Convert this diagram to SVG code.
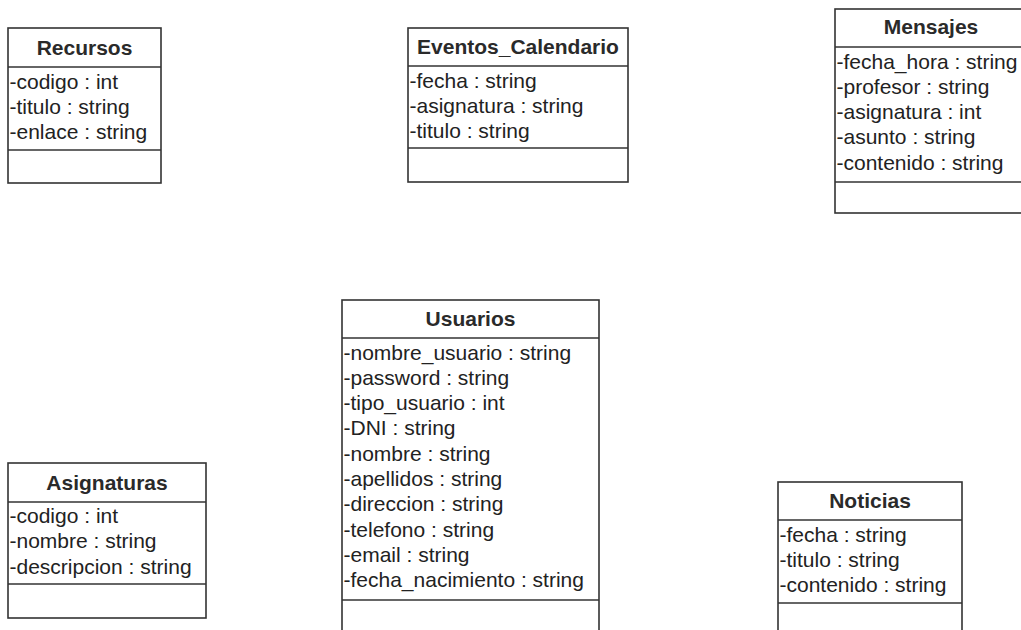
<svg xmlns="http://www.w3.org/2000/svg" width="1021" height="630" viewBox="0 0 1021 630">
  <style>
    .box { fill: #ffffff; stroke: #333333; stroke-width: 1.6; }
    .sep { stroke: #333333; stroke-width: 1.6; }
    .title { font-family: "Liberation Sans", Arial, sans-serif; font-size: 21px; font-weight: bold; fill: #2a2a2a; text-anchor: middle; }
    .attr { font-family: "Liberation Sans", Arial, sans-serif; font-size: 21px; fill: #222222; }
  </style>
  <rect width="1021" height="630" fill="#ffffff"/>

  <!-- class boxes -->
  <g id="recursos">
    <rect class="box" x="8" y="28" width="153" height="155"/>
    <line class="sep" x1="8" y1="67" x2="161" y2="67"/>
    <line class="sep" x1="8" y1="150" x2="161" y2="150"/>
    <text class="title" x="84.5" y="54.5">Recursos</text>
    <text class="attr" x="9.5" y="88.5">-codigo : int</text>
    <text class="attr" x="9.5" y="113.8">-titulo : string</text>
    <text class="attr" x="9.5" y="139.1">-enlace : string</text>
  </g>

  <g id="eventos_calendario">
    <rect class="box" x="408" y="28" width="220" height="154"/>
    <line class="sep" x1="408" y1="66" x2="628" y2="66"/>
    <line class="sep" x1="408" y1="148" x2="628" y2="148"/>
    <text class="title" x="518" y="54">Eventos_Calendario</text>
    <text class="attr" x="409.5" y="87.5">-fecha : string</text>
    <text class="attr" x="409.5" y="112.8">-asignatura : string</text>
    <text class="attr" x="409.5" y="138.1">-titulo : string</text>
  </g>

  <g id="mensajes">
    <rect class="box" x="835" y="9" width="192" height="204"/>
    <line class="sep" x1="835" y1="47" x2="1027" y2="47"/>
    <line class="sep" x1="835" y1="182" x2="1027" y2="182"/>
    <text class="title" x="931" y="34">Mensajes</text>
    <text class="attr" x="836.5" y="68.5">-fecha_hora : string</text>
    <text class="attr" x="836.5" y="93.8">-profesor : string</text>
    <text class="attr" x="836.5" y="119.1">-asignatura : int</text>
    <text class="attr" x="836.5" y="144.4">-asunto : string</text>
    <text class="attr" x="836.5" y="169.7">-contenido : string</text>
  </g>

  <g id="usuarios">
    <rect class="box" x="342" y="300" width="257" height="340"/>
    <line class="sep" x1="342" y1="338" x2="599" y2="338"/>
    <line class="sep" x1="342" y1="600" x2="599" y2="600"/>
    <text class="title" x="470.5" y="326">Usuarios</text>
    <text class="attr" x="343.5" y="359.5">-nombre_usuario : string</text>
    <text class="attr" x="343.5" y="384.8">-password : string</text>
    <text class="attr" x="343.5" y="410.1">-tipo_usuario : int</text>
    <text class="attr" x="343.5" y="435.4">-DNI : string</text>
    <text class="attr" x="343.5" y="460.7">-nombre : string</text>
    <text class="attr" x="343.5" y="486">-apellidos : string</text>
    <text class="attr" x="343.5" y="511.3">-direccion : string</text>
    <text class="attr" x="343.5" y="536.6">-telefono : string</text>
    <text class="attr" x="343.5" y="561.9">-email : string</text>
    <text class="attr" x="343.5" y="587.2">-fecha_nacimiento : string</text>
  </g>

  <g id="asignaturas">
    <rect class="box" x="8" y="463" width="198" height="155"/>
    <line class="sep" x1="8" y1="502" x2="206" y2="502"/>
    <line class="sep" x1="8" y1="584" x2="206" y2="584"/>
    <text class="title" x="107" y="489.5">Asignaturas</text>
    <text class="attr" x="9.5" y="523">-codigo : int</text>
    <text class="attr" x="9.5" y="548.3">-nombre : string</text>
    <text class="attr" x="9.5" y="573.6">-descripcion : string</text>
  </g>

  <g id="noticias">
    <rect class="box" x="778" y="482" width="184" height="160"/>
    <line class="sep" x1="778" y1="520" x2="962" y2="520"/>
    <line class="sep" x1="778" y1="603" x2="962" y2="603"/>
    <text class="title" x="870" y="508">Noticias</text>
    <text class="attr" x="779.5" y="541.5">-fecha : string</text>
    <text class="attr" x="779.5" y="566.8">-titulo : string</text>
    <text class="attr" x="779.5" y="592.1">-contenido : string</text>
  </g>

  <!-- no associations are drawn between the classes -->
  <g id="connectors"/>
</svg>
